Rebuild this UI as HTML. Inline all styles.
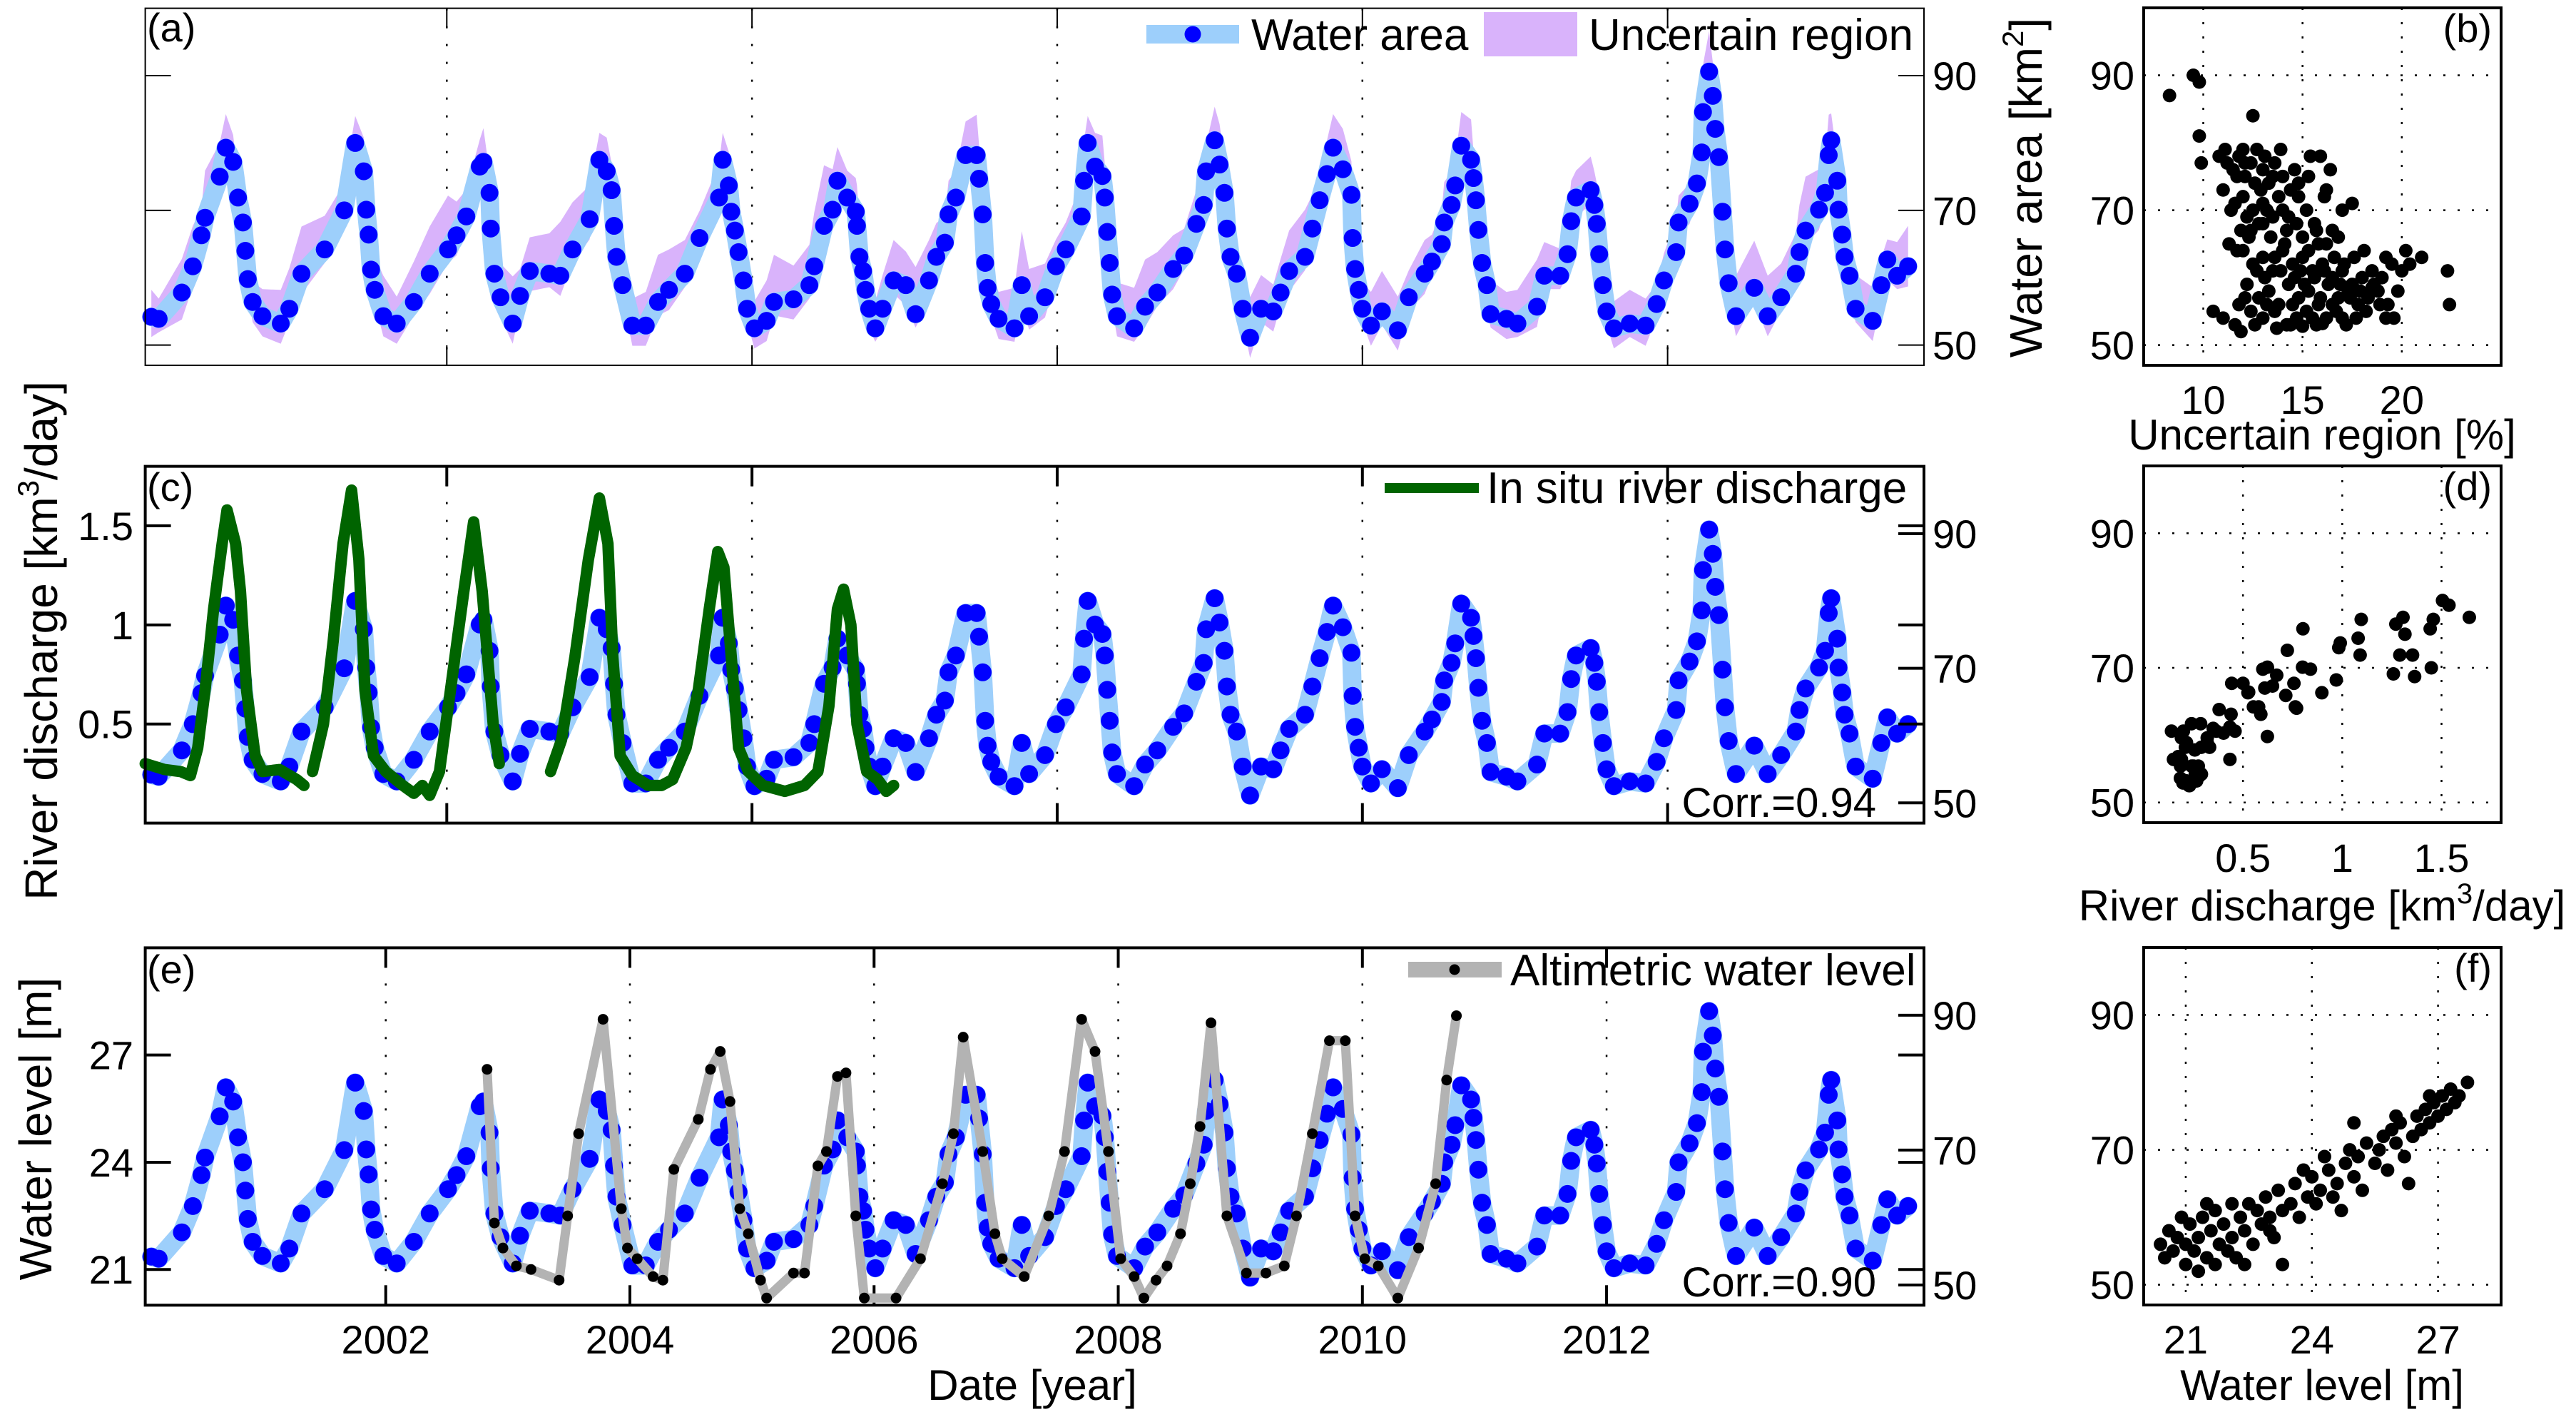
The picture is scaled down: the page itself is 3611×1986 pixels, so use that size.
<!DOCTYPE html>
<html><head><meta charset="utf-8"><style>
html,body{margin:0;padding:0;background:#fff;}
svg{display:block;font-family:"Liberation Sans",Arial,sans-serif;}
</style></head><body>
<svg id="fig" width="3611" height="1986" viewBox="0 0 3611 1986" xmlns="http://www.w3.org/2000/svg">
<rect width="3611" height="1986" fill="#fff"/>
</svg>
<script>
// ---------- data ----------
const areaYears=[2000.08,2000.14,2000.33,2000.42,2000.49,2000.52,2000.64,2000.69,2000.75,2000.79,2000.83,2000.85,2000.87,2000.91,2000.99,2001.14,2001.21,2001.31,2001.5,2001.66,2001.75,2001.82,2001.84,2001.86,2001.88,2001.91,2001.98,2002.09,2002.23,2002.36,2002.51,2002.58,2002.66,2002.77,2002.8,2002.85,2002.86,2002.89,2002.94,2003.04,2003.1,2003.18,2003.34,2003.43,2003.53,2003.67,2003.75,2003.81,2003.85,2003.87,2003.89,2003.94,2004.02,2004.13,2004.23,2004.32,2004.45,2004.57,2004.73,2004.76,2004.81,2004.83,2004.86,2004.89,2004.93,2004.96,2005.02,2005.12,2005.18,2005.34,2005.47,2005.51,2005.59,2005.66,2005.7,2005.78,2005.85,2005.86,2005.88,2005.91,2005.93,2005.96,2006.01,2006.07,2006.16,2006.26,2006.34,2006.45,2006.51,2006.58,2006.61,2006.67,2006.75,2006.84,2006.86,2006.89,2006.91,2006.93,2006.96,2007.02,2007.15,2007.21,2007.27,2007.4,2007.49,2007.57,2007.7,2007.72,2007.75,2007.81,2007.87,2007.89,2007.91,2007.93,2007.95,2007.99,2008.13,2008.22,2008.32,2008.45,2008.54,2008.64,2008.7,2008.72,2008.79,2008.83,2008.87,2008.89,2008.92,2008.97,2009.02,2009.08,2009.17,2009.27,2009.33,2009.4,2009.53,2009.59,2009.65,2009.71,2009.76,2009.84,2009.91,2009.92,2009.94,2009.97,2010.0,2010.07,2010.16,2010.29,2010.38,2010.51,2010.57,2010.65,2010.67,2010.73,2010.76,2010.81,2010.89,2010.91,2010.93,2010.95,2010.98,2011.02,2011.05,2011.18,2011.27,2011.43,2011.49,2011.62,2011.68,2011.71,2011.75,2011.87,2011.9,2011.92,2011.94,2011.97,2012.0,2012.06,2012.19,2012.32,2012.41,2012.47,2012.57,2012.59,2012.68,2012.74,2012.78,2012.79,2012.84,2012.87,2012.89,2012.92,2012.95,2012.97,2013.0,2013.06,2013.21,2013.32,2013.43,2013.55,2013.58,2013.63,2013.74,2013.79,2013.82,2013.84,2013.89,2013.9,2013.93,2013.95,2013.99,2014.04,2014.18,2014.25,2014.3,2014.38,2014.47];
const areaValues=[54.2,53.9,57.8,61.7,66.3,68.9,75,79.3,77.2,71.9,68.2,64,59.8,56.4,54.3,53.2,55.4,60.6,64.2,70,80,75.8,70.1,66.4,61.2,58.2,54.3,53.2,56.4,60.6,64.2,66.3,69.1,76.5,77.2,72.6,67.3,60.6,57.1,53.2,57.3,61,60.6,60.3,64.2,68.7,77.5,75.8,73,67.7,63.1,58.9,52.9,52.9,56.4,58.2,60.6,65.9,71.9,77.5,73.7,69.8,67,63.8,59.6,55.4,52.5,53.6,56.4,56.8,58.9,61.7,67.7,70.1,74.4,71.9,69.8,67.7,63.1,61,58.2,55.4,52.5,55.4,59.6,58.9,54.6,59.6,63.1,65.2,69.4,71.9,78.2,78.2,74.7,69.4,62.2,58.5,56.1,53.9,52.5,58.9,54.3,57.1,61.7,64.2,69.1,74.4,80,76.5,75.1,71.9,66.8,62.2,57.5,54.3,52.5,55.7,57.8,61.3,63.3,68,70.8,75.8,80.4,76.8,72.6,67.3,63.1,60.6,55.4,51.1,55.4,55,57.8,61,63.1,67.3,71.5,75.4,79.3,76.1,72.3,65.9,61.3,58.2,55.4,52.9,55,52.2,57.1,60.6,62.4,65,68.2,70.8,73.7,79.6,77.5,74.8,71.5,67.1,62.2,58.9,54.6,53.9,53.2,55.7,60.3,60.3,63.5,68.4,71.9,73,70.8,68,63.5,58.9,55,52.5,53.2,52.9,56.1,59.6,63.8,68.2,71,74,78.6,84.6,90.6,87,82.1,77.9,69.8,64.2,59.2,54.3,58.5,54.3,57.1,60.6,63.8,67,70.1,72.6,78.2,80.4,74.4,70.1,66.4,63.1,60.3,55.4,53.6,58.9,62.7,60.3,61.7];
const uncUp=[4,3,5,6,4,7,5,5,4,3,5,6,4,3,4,5,6,7,5,4,4,5,6,3,4,5,6,4,6,7,8,5,4,4,5,3,4,6,5,7,4,5,6,8,7,5,4,5,4,3,5,6,4,5,7,6,5,4,5,4,5,6,4,5,4,3,4,6,7,5,6,8,9,6,5,4,5,6,5,4,4,3,4,5,6,5,7,6,5,4,5,4,5,6,5,4,5,6,5,4,6,8,7,5,4,4,5,6,4,5,6,5,4,3,4,5,6,7,6,5,4,5,6,4,5,6,5,4,3,4,5,6,5,4,5,6,7,5,4,5,5,6,5,6,4,3,4,5,6,5,4,5,4,5,6,5,4,5,6,4,5,6,7,6,5,4,5,7,5,4,5,6,4,5,5,6,7,6,5,4,5,4,3,4,5,4,3,4,6,7,6,5,4,5,6,5,4,6,7,6,5,6,7,8,6,5,6];
const uncDn=[3,2,4,3,2,3,2,3,2,3,2,3,2,3,3,3,2,3,2,3,2,2,3,2,3,2,3,3,2,3,2,3,2,2,3,2,3,2,3,3,2,3,2,3,2,3,2,2,3,2,3,2,3,3,2,3,2,3,2,2,3,2,3,2,3,2,3,3,2,3,2,3,2,2,3,2,3,2,3,2,3,3,2,3,2,3,2,3,2,2,3,2,3,2,3,2,3,3,2,3,2,3,2,3,2,2,3,2,3,2,3,2,3,3,2,3,2,3,2,3,2,2,3,2,3,2,3,2,3,3,2,3,2,3,2,3,2,2,3,2,3,2,3,2,3,3,2,3,2,3,2,3,2,2,3,2,3,2,3,2,3,3,2,3,2,3,2,3,2,2,3,2,3,2,3,2,3,3,2,3,2,3,2,3,2,2,3,2,3,2,3,2,3,3,2,3,2,3,2,3,2,2,3,2,3,2,3];
const dischYears=[2000.03,2000.19,2000.32,2000.4,2000.46,2000.52,2000.59,2000.66,2000.7,2000.77,2000.81,2000.86,2000.93,2000.99,2001.13,2001.27,2001.33,null,2001.4,2001.49,2001.57,2001.65,2001.72,2001.78,2001.83,2001.9,2002.0,2002.14,2002.23,2002.3,2002.36,2002.44,2002.53,2002.64,2002.72,2002.79,2002.88,2002.93,null,2003.35,2003.44,2003.55,2003.66,2003.75,2003.82,2003.86,2003.92,2004.02,2004.15,2004.26,2004.35,2004.46,2004.56,2004.65,2004.72,2004.77,2004.83,2004.89,2004.97,2005.09,2005.27,2005.43,2005.54,2005.63,2005.7,2005.75,2005.81,2005.86,2005.94,2006.03,2006.1,2006.16];
const dischValues=[0.30,0.27,0.26,0.24,0.38,0.67,1.08,1.41,1.58,1.41,1.17,0.67,0.34,0.26,0.27,0.22,0.19,null,0.26,0.50,0.92,1.41,1.68,1.33,0.67,0.34,0.26,0.19,0.15,0.19,0.14,0.26,0.67,1.17,1.52,1.17,0.50,0.30,null,0.26,0.42,0.84,1.33,1.64,1.41,0.84,0.34,0.24,0.19,0.19,0.22,0.38,0.67,1.08,1.37,1.29,0.84,0.38,0.26,0.19,0.16,0.19,0.26,0.59,1.08,1.18,1.00,0.50,0.26,0.22,0.16,0.19];
const altiYears=[2002.83,2002.89,2002.96,2003.07,2003.19,2003.42,2003.49,2003.58,2003.78,2003.93,2003.98,2004.06,2004.19,2004.27,2004.36,2004.56,2004.66,2004.74,2004.82,2004.9,2004.97,2005.07,2005.12,2005.34,2005.43,2005.54,2005.61,2005.7,2005.77,2005.85,2005.92,2006.18,2006.38,2006.56,2006.65,2006.73,2006.89,2006.99,2007.05,2007.23,2007.43,2007.56,2007.7,2007.81,2007.92,2008.02,2008.13,2008.21,2008.31,2008.4,2008.51,2008.59,2008.67,2008.76,2008.89,2009.05,2009.21,2009.36,2009.46,2009.59,2009.73,2009.86,2009.94,2010.02,2010.13,2010.29,2010.46,2010.6,2010.69,2010.77];
const altiLevels=[26.6,22.3,21.6,21.1,21.0,20.7,22.5,24.8,28.0,22.7,21.6,21.3,20.8,20.7,23.8,25.2,26.6,27.1,25.7,22.7,22.0,20.7,20.2,20.9,20.9,23.9,24.3,26.4,26.5,22.5,20.2,20.2,21.3,23.4,24.8,27.5,24.3,22.0,21.3,20.8,22.5,24.3,28.0,27.1,24.3,21.3,20.8,20.2,20.7,21.1,22.0,23.4,25.0,27.9,22.5,20.9,20.9,21.1,22.5,24.8,27.4,27.4,22.5,21.3,21.1,20.2,21.6,23.4,26.3,28.1];
const bPct=[10.8,11.2,11.5,11.8,12.1,12.4,12.7,13.0,13.3,13.6,14.0,14.4,11.0,11.6,12.0,12.5,13.0,13.5,14.0,14.8,15.2,15.6,11.9,12.3,12.8,13.4,14.2,15.0,15.8,16.5,17.0,17.5,16.2,11.3,11.7,12.9,13.8,14.6,15.4,15.9,16.4,8.3,9.5,9.8,12.5,9.8,9.9,11.4,12.2,12.6,13.1,13.9,14.8,11.1,12.0,13.5,14.3,15.3,16.1,13.0,12.4,14.7,13.2,12.1,11.7,12,12.5,13,13.5,14,14.5,15,15.5,16,16.5,17,17.5,18,18.5,19,19.5,20,20.4,21,22.3,22.4,12.2,12.8,13.3,13.8,14.3,14.8,15.3,15.8,16.3,16.8,17.3,17.8,18.3,18.8,19.3,11.8,12.4,13.0,13.6,14.2,14.7,15.2,15.7,16.2,16.7,17.2,17.7,18.2,10.5,11,11.6,11.9,19.2,19.6,13.1,13.9,14.6,15.1,15.6,16.1,16.6,17.1,14.1,15.3,16.2,15.7,16.8,18.1,17.6,19.2,20.2,12.7,13.6,12.1,14.5,15.9,17.4,18.6,19.8,16.9,14.9,13.2,15.5,16.5,17.9,18.9,12.6,13.7,14.4,15.0,16.0,17.0,18.5];
const bArea=[78,77,76,78,75,77,79,76,74,77,75,73,73,71,72,70,71,69,70,72,70,68,67,66,68,66,67,66,65,67,70,71,73,65,75,73,72,76,78,78,76,87,90,89,84,81,77,70,69,74,78,79,74,79,79,75,69,75,72,68,67,68,70,77,64,64,62,63,61,64,62,63,61,62,60,61,59,60,61,60,62,61,62,63,61,56,59,57,58,56,59,57,58,56,59,57,58,56,57,58,56,56,55,54,55,53,54,55,53,54,55,53,54,55,55,54,53,52,54,54,60,61,60,59,60,61,63,62,65,64,65,67,66,64,63,63,64,61,63,57,56,57,57,59,58,59,61,56,54,56,58,56,53,52.5,53,52.8,53.2,54,58.5];
const fLevel=[20.4,20.5,20.6,20.7,20.8,20.9,21.0,21.0,21.1,21.2,21.3,21.3,21.4,21.5,21.6,21.7,21.7,21.8,21.9,22.0,22.1,22.1,22.2,22.3,22.4,22.5,22.6,22.7,22.8,22.9,23.0,23.1,23.2,23.3,23.3,23.5,23.6,23.7,23.9,24.0,24.1,24.2,24.4,24.5,24.6,24.8,24.9,25.0,25.1,25.2,25.3,25.5,25.6,25.7,25.8,25.9,26.0,26.1,26.2,26.3,26.4,26.5,26.6,26.7,26.8,26.9,27.0,27.1,27.2,27.3,27.4,27.5,27.7,26.0,26.8,25.0,22.4,23.0,21.5,24.7,23.8,24.3];
const fArea=[56,54,58,55,57,60,53,56,59,55,52,57,60,54,58,53,61,56,59,55,62,57,54,60,58,62,56,61,59,63,60,57,64,53,61,62,65,60,63,66,62,64,67,63,65,68,70,66,69,64,71,68,70,72,67,73,71,74,69,65,72,75,73,76,74,77,75,78,76,79,77,78,80,75,78,74,53,58,62,61,67,69];
const yearTicks=[2002,2004,2006,2008,2010,2012];
const halfYearGrid=[2002.5,2005,2007.5,2010,2012.5];
const areaTicks=[50,70,90];
const dischTicks=[0.5,1,1.5];
const levelTicks=[21,24,27];
const bXTicks=[10,15,20];
const dXTicks=[0.5,1,1.5];
const fXTicks=[21,24,27];

// ---------- helpers ----------
const NS="http://www.w3.org/2000/svg";
const svg=document.getElementById('fig');
function mk(tag,attrs,parent){const e=document.createElementNS(NS,tag);for(const k in attrs)e.setAttribute(k,attrs[k]);(parent||svg).appendChild(e);return e;}
function txt(s,x,y,size,anchor,parent){const t=mk('text',{x:x,y:y,'font-size':size,'text-anchor':anchor||'start',fill:'#000'},parent);t.textContent=s;return t;}
function lin(d0,d1,r0,r1){return v=>r0+(v-d0)*(r1-r0)/(d1-d0);}

const XL=203.6, XR=2697;
const xT=lin(2000.03,2014.6,XL,XR);
const P={a:{t:11.6,b:512,lw:2},c:{t:653.6,b:1153.6,lw:4},e:{t:1328.4,b:1829.3,lw:4}};
const FS=56;

function timeAxes(key,gridVals){
  const p=P[key];
  const g=mk('g',{});
  
  
  const yA=lin(47,100,p.b,p.t);
  gridVals.forEach(v=>{const l=mk('line',{x1:xT(v),x2:xT(v),y1:p.t,y2:p.b,stroke:'#000','stroke-width':2.5,'stroke-dasharray':'3,22'},g);
    
    
    mk('line',{x1:xT(v),x2:xT(v),y1:p.b,y2:p.b-28,stroke:'#000','stroke-width':p.lw},g);
    mk('line',{x1:xT(v),x2:xT(v),y1:p.t,y2:p.t+28,stroke:'#000','stroke-width':p.lw},g);});
  areaTicks.forEach(v=>{const y=yA(v);
    mk('line',{x1:XR-36,x2:XR,y1:y,y2:y,stroke:'#000','stroke-width':p.lw},g);
    const t=txt(String(v),2709,y+20,FS,'start',g);
    
    });
  return {g:g,yA:yA,p:p};
}
function frame(g,p,name){const r=mk('rect',{x:XL,y:p.t,width:XR-XL,height:p.b-p.t,fill:'none',stroke:'#000','stroke-width':p.lw},g);
  
  }

function drawArea(g,yA,withBand){
  if(withBand){
    let up=[],dn=[];
    areaYears.forEach((t,i)=>{up.push(xT(t)+','+yA(areaValues[i]+uncUp[i%uncUp.length]));dn.push(xT(t)+','+yA(areaValues[i]-uncDn[i%uncDn.length]));});
    const band=mk('polygon',{points:up.concat(dn.reverse()).join(' '),fill:'#d9b3fb',stroke:'none'},g);
    
    
  }
  const pts=areaYears.map((t,i)=>xT(t)+','+yA(areaValues[i])).join(' ');
  const pl=mk('polyline',{points:pts,fill:'none',stroke:'#9dcffb','stroke-width':26,'stroke-linejoin':'round','stroke-linecap':'round'},g);
  
  
  areaYears.forEach((t,i)=>{const c=mk('circle',{cx:xT(t),cy:yA(areaValues[i]),r:12.5,fill:'#0000ff'},g);
    
    });
}

// ---------- panel a ----------
{
  const A=timeAxes('a',halfYearGrid);
  drawArea(A.g,A.yA,true);
  frame(A.g,A.p,'panel-a-frame');
  areaTicks.forEach(v=>mk('line',{x1:XL,x2:XL+36,y1:A.yA(v),y2:A.yA(v),stroke:'#000','stroke-width':2},A.g));
  const l=txt('(a)',206,58,FS,'start',A.g);  
  const lg=mk('g',{});  
  mk('rect',{x:1607,y:35,width:130,height:26,fill:'#9dcffb'},lg);
  mk('circle',{cx:1672,cy:48,r:11.5,fill:'#0000ff'},lg);
  txt('Water area',1754,70,62,'start',lg);
  mk('rect',{x:2080,y:17,width:131,height:62,fill:'#d9b3fb'},lg);
  txt('Uncertain region',2227,70,62,'start',lg);
  const yl=txt('Water area [km',0,0,64,'middle');
  yl.setAttribute('transform','translate(2862,263) rotate(-90)');
   
  const sup=mk('tspan',{'font-size':42,dy:-26},yl); sup.textContent='2';
  const cl=mk('tspan',{dy:26},yl); cl.textContent=']';
}
// ---------- panel c ----------
{
  const C=timeAxes('c',halfYearGrid);
  const p=C.p; const yQ=lin(0,1.8,p.b,p.t);
  drawArea(C.g,C.yA,false);
  let segs=[],cur=[];
  dischYears.forEach((t,i)=>{if(t===null){if(cur.length)segs.push(cur);cur=[];}else cur.push(xT(t)+','+yQ(dischValues[i]));});
  if(cur.length)segs.push(cur);
  segs.forEach(s=>{const pl=mk('polyline',{points:s.join(' '),fill:'none',stroke:'#006400','stroke-width':16,'stroke-linejoin':'round','stroke-linecap':'round'},C.g);
    
    });
  frame(C.g,p,'panel-c-frame');
  dischTicks.forEach(v=>{const y=yQ(v);
    mk('line',{x1:XL,x2:XL+36,y1:y,y2:y,stroke:'#000','stroke-width':4},C.g);
    mk('line',{x1:XR-36,x2:XR,y1:y,y2:y,stroke:'#000','stroke-width':4},C.g);
    const t=txt(String(v),187,y+20,FS,'end',C.g);
    
    });
  const l=txt('(c)',206,702,FS,'start',C.g);  
  const lg=mk('g',{});  
  mk('rect',{x:1941,y:677,width:132,height:14,fill:'#006400'},lg);
  txt('In situ river discharge',2084,705,62,'start',lg);
  const co=txt('Corr.=0.94',2630,1145,58,'end',C.g);  
  const yl=txt('River discharge [km',0,0,64,'middle');
  yl.setAttribute('transform','translate(80,898) rotate(-90)');
   
  const s1=mk('tspan',{'font-size':42,dy:-26},yl); s1.textContent='3';
  const s2=mk('tspan',{dy:26},yl); s2.textContent='/day]';
}
// ---------- panel e ----------
{
  const E=timeAxes('e',yearTicks);
  const p=E.p; const yL=lin(20,30,p.b,p.t);
  drawArea(E.g,E.yA,false);
  const pts=altiYears.map((t,i)=>xT(t)+','+yL(altiLevels[i])).join(' ');
  const pl=mk('polyline',{points:pts,fill:'none',stroke:'#b3b3b3','stroke-width':13,'stroke-linejoin':'round'},E.g);
  
  
  altiYears.forEach((t,i)=>{const c=mk('circle',{cx:xT(t),cy:yL(altiLevels[i]),r:7.5,fill:'#000'},E.g);
    
    });
  frame(E.g,p,'panel-e-frame');
  levelTicks.forEach(v=>{const y=yL(v);
    mk('line',{x1:XL,x2:XL+36,y1:y,y2:y,stroke:'#000','stroke-width':4},E.g);
    mk('line',{x1:XR-36,x2:XR,y1:y,y2:y,stroke:'#000','stroke-width':4},E.g);
    const t=txt(String(v),187,y+20,FS,'end',E.g);
    
    });
  yearTicks.forEach(v=>{const t=txt(String(v),xT(v),1897,FS,'middle',E.g);
    
    });
  const l=txt('(e)',206,1378,FS,'start',E.g);  
  const lg=mk('g',{});  
  mk('rect',{x:1974,y:1348,width:131,height:22,fill:'#b3b3b3'},lg);
  mk('circle',{cx:2039,cy:1359,r:7.5,fill:'#000'},lg);
  txt('Altimetric water level',2117,1381,62,'start',lg);
  const co=txt('Corr.=0.90',2630,1817,58,'end',E.g);  
  const yl=txt('Water level [m]',0,0,64,'middle');
  yl.setAttribute('transform','translate(72,1582) rotate(-90)');
   
  const xl=txt('Date [year]',1447,1962,60,'middle');
   
}
// ---------- scatter panels ----------
function scatter(key,top,bot,xd0,xd1,xticks,xs,ys,label,tickY,xlabelY,xlabel,sup,after){
  const SL=3005,SR=3506;
  const g=mk('g',{});  
  const sx=lin(xd0,xd1,SL,SR), sy=lin(47,100,bot,top);
  xticks.forEach(v=>{const l=mk('line',{x1:sx(v),x2:sx(v),y1:top,y2:bot,stroke:'#000','stroke-width':2.5,'stroke-dasharray':'3,17'},g);
     
    const t=txt(String(v),sx(v),tickY,FS,'middle',g);
     });
  areaTicks.forEach(v=>{const l=mk('line',{x1:SL,x2:SR,y1:sy(v),y2:sy(v),stroke:'#000','stroke-width':2.5,'stroke-dasharray':'3,17'},g);
     
    const t=txt(String(v),2992,sy(v)+20,FS,'end',g);
     });
  xs.forEach((x,i)=>{if(x===null||ys[i]===null)return;const c=mk('circle',{cx:sx(x),cy:sy(ys[i]),r:9.5,fill:'#000'},g);
     });
  const r=mk('rect',{x:SL,y:top,width:SR-SL,height:bot-top,fill:'none',stroke:'#000','stroke-width':4},g);
   
  const l=txt(label,3493,top+48,FS,'end',g);  
  const xl=txt(xlabel,3255,xlabelY,60,'middle',g);
   
  if(sup){const s=mk('tspan',{'font-size':40,dy:-24},xl);s.textContent=sup;const s2=mk('tspan',{dy:24},xl);s2.textContent=after;}
}
scatter('b',11,512,7,25,bXTicks,bPct,bArea,'(b)',580,630,'Uncertain region [%]');
const dQ=[],dA=[];
areaYears.forEach((t,i)=>{for(let k=0;k<dischYears.length-1;k++){const t0=dischYears[k],t1=dischYears[k+1];
  if(t0!==null&&t1!==null&&t>=t0&&t<=t1){dQ.push(dischValues[k]+(dischValues[k+1]-dischValues[k])*(t-t0)/(t1-t0));dA.push(areaValues[i]);break;}}});
scatter('d',653,1153,0,1.8,dXTicks,dQ,dA,'(d)',1222,1290,'River discharge [km','3','/day]');
scatter('f',1328,1829,20,28.5,fXTicks,fLevel,fArea,'(f)',1897,1962,'Water level [m]');
</script>
</body></html>
